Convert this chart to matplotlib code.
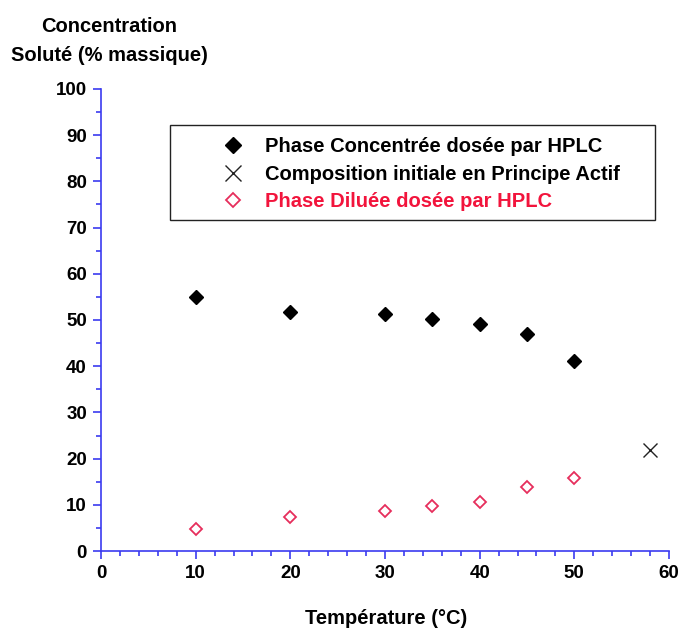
import matplotlib
matplotlib.use("Agg")
import matplotlib.pyplot as plt
from matplotlib.ticker import MultipleLocator
from matplotlib.patches import Rectangle

plt.rcParams['font.family'] = ['Liberation Sans', 'DejaVu Sans']

temp = [10, 20, 30, 35, 40, 45, 50]
conc_phase = [54.9, 51.8, 51.2, 50.2, 49.2, 46.9, 41.2]
dil_phase = [4.7, 7.4, 8.6, 9.7, 10.6, 13.9, 15.7]
init_x = [58]
init_y = [21.9]

labels = ["Phase Concentrée dosée par HPLC",
          "Composition initiale en Principe Actif",
          "Phase Diluée dosée par HPLC"]
xlabel = "Température (°C)"
ylabel_lines = ["Concentration", "Soluté (% massique)"]

red_text = '#f2143c'
red_mark = '#e62e5c'
blue = '#3b3bf0'

fig = plt.figure(figsize=(6.8, 6.28), dpi=100)
ax = fig.add_axes([0.1485, 0.1226, 0.8353, 0.7357])

ax.plot(temp, conc_phase, linestyle='none', marker='D', markersize=7.0,
        color='black', label=labels[0])
ax.plot(init_x, init_y, linestyle='none', marker='x', markersize=10.5,
        markeredgewidth=1.0, color='#222222', label=labels[1])
ax.plot(temp, dil_phase, linestyle='none', marker='D', markersize=6.6,
        markerfacecolor='white', markeredgecolor=red_mark, markeredgewidth=1.3,
        label=labels[2])

ax.set_xlim(0, 60)
ax.set_ylim(0, 100)
ax.xaxis.set_major_locator(MultipleLocator(10))
ax.xaxis.set_minor_locator(MultipleLocator(2))
ax.yaxis.set_major_locator(MultipleLocator(10))
ax.yaxis.set_minor_locator(MultipleLocator(5))

for s in ['top', 'right']:
    ax.spines[s].set_visible(False)
for s in ['left', 'bottom']:
    ax.spines[s].set_color(blue)
    ax.spines[s].set_linewidth(1.2)

ax.tick_params(axis='both', which='major', length=5.8, width=1.2, color=blue,
               labelsize=13.5, direction='out', pad=4.3)
ax.tick_params(axis='both', which='minor', length=3.4, width=1.2, color=blue,
               direction='out')
for lab in ax.get_xticklabels() + ax.get_yticklabels():
    lab.set_fontweight('bold')

ax.set_xlabel(xlabel, fontsize=14.5, fontweight='bold', va='baseline')
ax.xaxis.set_label_coords(0.502, -0.158)

fig.text(0.161, 0.949, ylabel_lines[0], ha='center', va='baseline',
         fontsize=14.5, fontweight='bold')
fig.text(0.161, 0.903, ylabel_lines[1], ha='center', va='baseline',
         fontsize=14.5, fontweight='bold')

# legend frame
ax.add_patch(Rectangle((0.1215, 0.7175), 0.8535, 0.2045, transform=ax.transAxes,
                       facecolor='white', edgecolor='#222222', linewidth=1.0,
                       zorder=4))
leg = ax.legend(loc='upper left', bbox_to_anchor=(0.191, 0.895),
                frameon=False, borderpad=0.0, handlelength=2.34,
                handletextpad=0.4, labelspacing=0.42, borderaxespad=0.0,
                markerscale=1.12,
                prop={'weight': 'bold', 'size': 14.5})
leg.set_zorder(5)
leg.get_texts()[2].set_color(red_text)

fig.savefig("out.png", dpi=100)
